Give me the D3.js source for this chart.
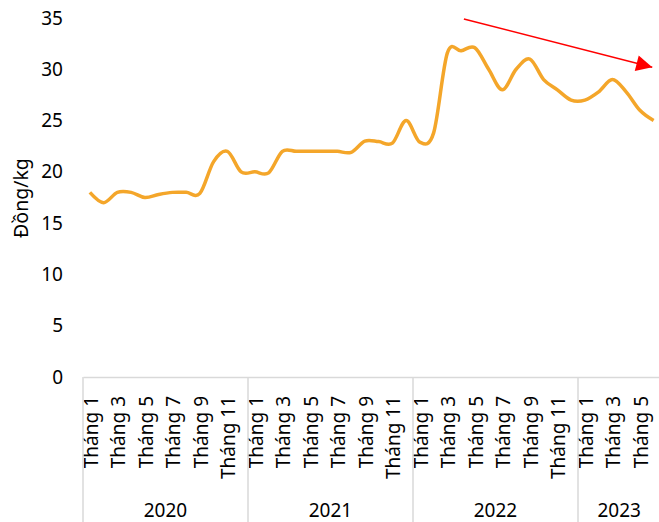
<!DOCTYPE html>
<html>
<head>
<meta charset="utf-8">
<script src="https://cdn.jsdelivr.net/npm/d3@7"></script>
<style>
  body { margin: 0; background: #fff; }
  svg { display: block; font-family: "Noto Sans", sans-serif; }
</style>
</head>
<body>
<div class="svg-div"></div>
<script>
// data
var years = ["2020", "2021", "2022", "2023"]
var monthsPerYear = [12, 12, 12, 6]
var prices = [
  18, 17, 18, 18, 17.5, 17.8, 18, 18, 17.9, 21, 22, 20,
  20, 19.9, 22, 22, 22, 22, 22, 21.9, 23, 22.95, 22.8, 25,
  22.9, 23.8, 31.6, 31.8, 32.1, 30, 28, 30, 31, 29, 28, 27,
  27, 27.8, 29, 27.8, 26, 25
]
var yTicks = [0, 5, 10, 15, 20, 25, 30, 35]
var yLabel = "Đồng/kg"
// trend arrow, in (month index, value)
var arrowFrom = [27.2, 34.9]
var arrowTo = [40.9, 30.2]

var width = 659, height = 522
var plotLeft = 83, plotTop = 18, plotBottom = 377
var monthW = 13.75

var months = []
years.forEach(function (y, k) {
  for (var m = 1; m <= monthsPerYear[k]; m++) months.push({ year: y, m: m, key: y + "-" + m })
})
var n = months.length

var svg = d3.select(".svg-div").append("svg")
  .attr("width", width).attr("height", height)

var xScale = d3.scaleBand()
  .domain(months.map(d => d.key))
  .range([plotLeft, plotLeft + monthW * n])
var xIdx = d3.scaleLinear().domain([0, n]).range([plotLeft, plotLeft + monthW * n])
var yScale = d3.scaleLinear().domain([0, 35]).range([plotBottom, plotTop])

// y axis
var gy = svg.append("g").attr("transform", "translate(" + (plotLeft - 20) + ",0)")
  .call(d3.axisLeft(yScale).tickValues(yTicks).tickSize(0).tickPadding(0))
gy.select(".domain").remove()
gy.selectAll("text").attr("font-size", 19).attr("fill", "#000")
  .attr("font-family", "Noto Sans")

svg.append("text")
  .attr("transform", "translate(28,198) rotate(-90)")
  .attr("text-anchor", "middle")
  .attr("font-size", 19.5)
  .text(yLabel)

// x axis with months
var gx = svg.append("g").attr("transform", "translate(0," + plotBottom + ")")
  .call(d3.axisBottom(xScale).tickSize(0)
    .tickFormat(k => { var m = +k.split("-")[1]; return m % 2 === 1 ? "Tháng " + m : "" }))
gx.select(".domain").attr("stroke", "#d9d9d9").attr("stroke-width", 1.5)
gx.selectAll("text")
  .attr("font-size", 19).attr("fill", "#000").attr("font-family", "Noto Sans")
  .attr("transform", "rotate(-90)")
  .attr("text-anchor", "end")
  .attr("dy", "0.35em")
  .attr("x", -19).attr("y", 1)

// year separators and labels
var start = 0
var bounds = [0]
monthsPerYear.forEach(function (c) { start += c; bounds.push(start) })
svg.append("g").selectAll("line")
  .data(bounds.slice(0, -1))
  .join("line")
  .attr("x1", d => xIdx(d)).attr("x2", d => xIdx(d))
  .attr("y1", plotBottom).attr("y2", height)
  .attr("stroke", "#d9d9d9").attr("stroke-width", 1.5)
svg.append("g").selectAll("text")
  .data(years)
  .join("text")
  .attr("x", (d, i) => (xIdx(bounds[i]) + xIdx(bounds[i + 1])) / 2)
  .attr("y", 517)
  .attr("text-anchor", "middle")
  .attr("font-size", 19)
  .text(d => d)

// price line
var line = d3.line()
  .x((d, i) => xScale(months[i].key) + xScale.bandwidth() / 2)
  .y(d => yScale(d))
  .curve(d3.curveCatmullRom.alpha(0))
svg.append("path")
  .datum(prices)
  .attr("d", line)
  .attr("fill", "none")
  .attr("stroke", "#F4A62A")
  .attr("stroke-width", 3.5)
  .attr("stroke-linejoin", "round")

// arrow
svg.append("defs").append("marker")
  .attr("id", "head")
  .attr("viewBox", "0 0 10 10")
  .attr("refX", 10).attr("refY", 5)
  .attr("markerUnits", "userSpaceOnUse")
  .attr("markerWidth", 17).attr("markerHeight", 16)
  .attr("orient", "auto")
  .append("path").attr("d", "M0,0L10,5L0,10Z").attr("fill", "#ff0000")
svg.append("line")
  .attr("x1", xIdx(arrowFrom[0] + 0.5)).attr("y1", yScale(arrowFrom[1]))
  .attr("x2", xIdx(arrowTo[0] + 0.5)).attr("y2", yScale(arrowTo[1]))
  .attr("stroke", "#ff0000").attr("stroke-width", 1.5)
  .attr("marker-end", "url(#head)")
</script>
</body>
</html>
